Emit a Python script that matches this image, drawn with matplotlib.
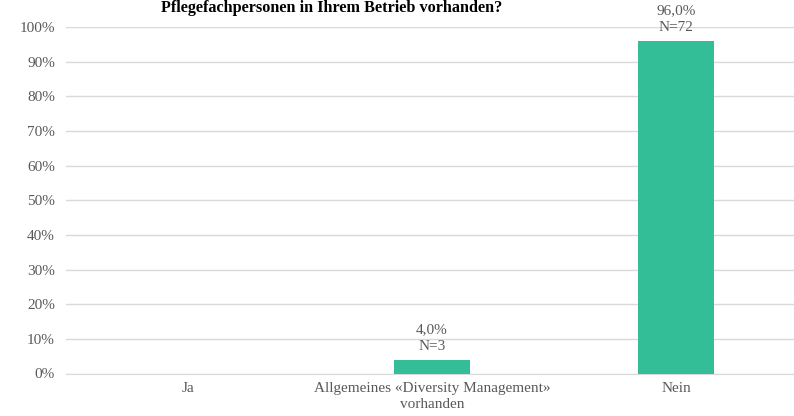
import matplotlib.pyplot as plt
from matplotlib.ticker import PercentFormatter

# Antworten und Anteile
categories = ['Ja', 'Allgemeines «Diversity Management»\nvorhanden', 'Nein']
shares = [0.0, 0.04, 0.96]
counts = [0, 3, 72]
title = 'Pflegefachpersonen in Ihrem Betrieb vorhanden?'

plt.rcParams['font.family'] = ['Liberation Serif', 'DejaVu Serif']
text_col = '#595959'
grid_col = '#D9D9D9'
bar_col = '#33BE98'

fig = plt.figure(figsize=(7.94, 4.16), dpi=100)
ax = fig.add_axes([66 / 794, 42.5 / 416, 728 / 794, 346.5 / 416])

x = range(len(categories))
ax.bar(x, shares, width=0.315, color=bar_col, zorder=3)

# Beschriftung nur für Balken mit Werten
for xi, s, n in zip(x, shares, counts):
    if n == 0:
        continue
    lbl = f'{s * 100:.1f}%'.replace('.', ',') + f'\nN={n}'
    ax.annotate(lbl, (xi, s), xytext=(0, 5), textcoords='offset points',
                ha='center', va='bottom', fontsize=11, color=text_col,
                linespacing=1.35, annotation_clip=False, zorder=4)

ax.set_xlim(-0.5, -0.5 + 728 / 244)
ax.set_ylim(0, 1)
ax.set_yticks([i / 10 for i in range(11)])
ax.yaxis.set_major_formatter(PercentFormatter(1.0, decimals=0))
ax.set_xticks(list(x))
ax.set_xticklabels(categories, linespacing=1.3)
ax.tick_params(axis='both', length=0, labelsize=11, colors=text_col)
ax.tick_params(axis='x', pad=6)
ax.tick_params(axis='y', pad=8)
ax.grid(axis='y', color=grid_col, linewidth=1.0, zorder=0)
for side in ['top', 'right', 'left']:
    ax.spines[side].set_visible(False)
ax.spines['bottom'].set_color(grid_col)

fig.text(332 / 794, 1 - 12 / 416, title, ha='center', va='baseline',
         fontsize=11.7, fontweight='bold', color='black')

fig.savefig('out.png', dpi=100)
